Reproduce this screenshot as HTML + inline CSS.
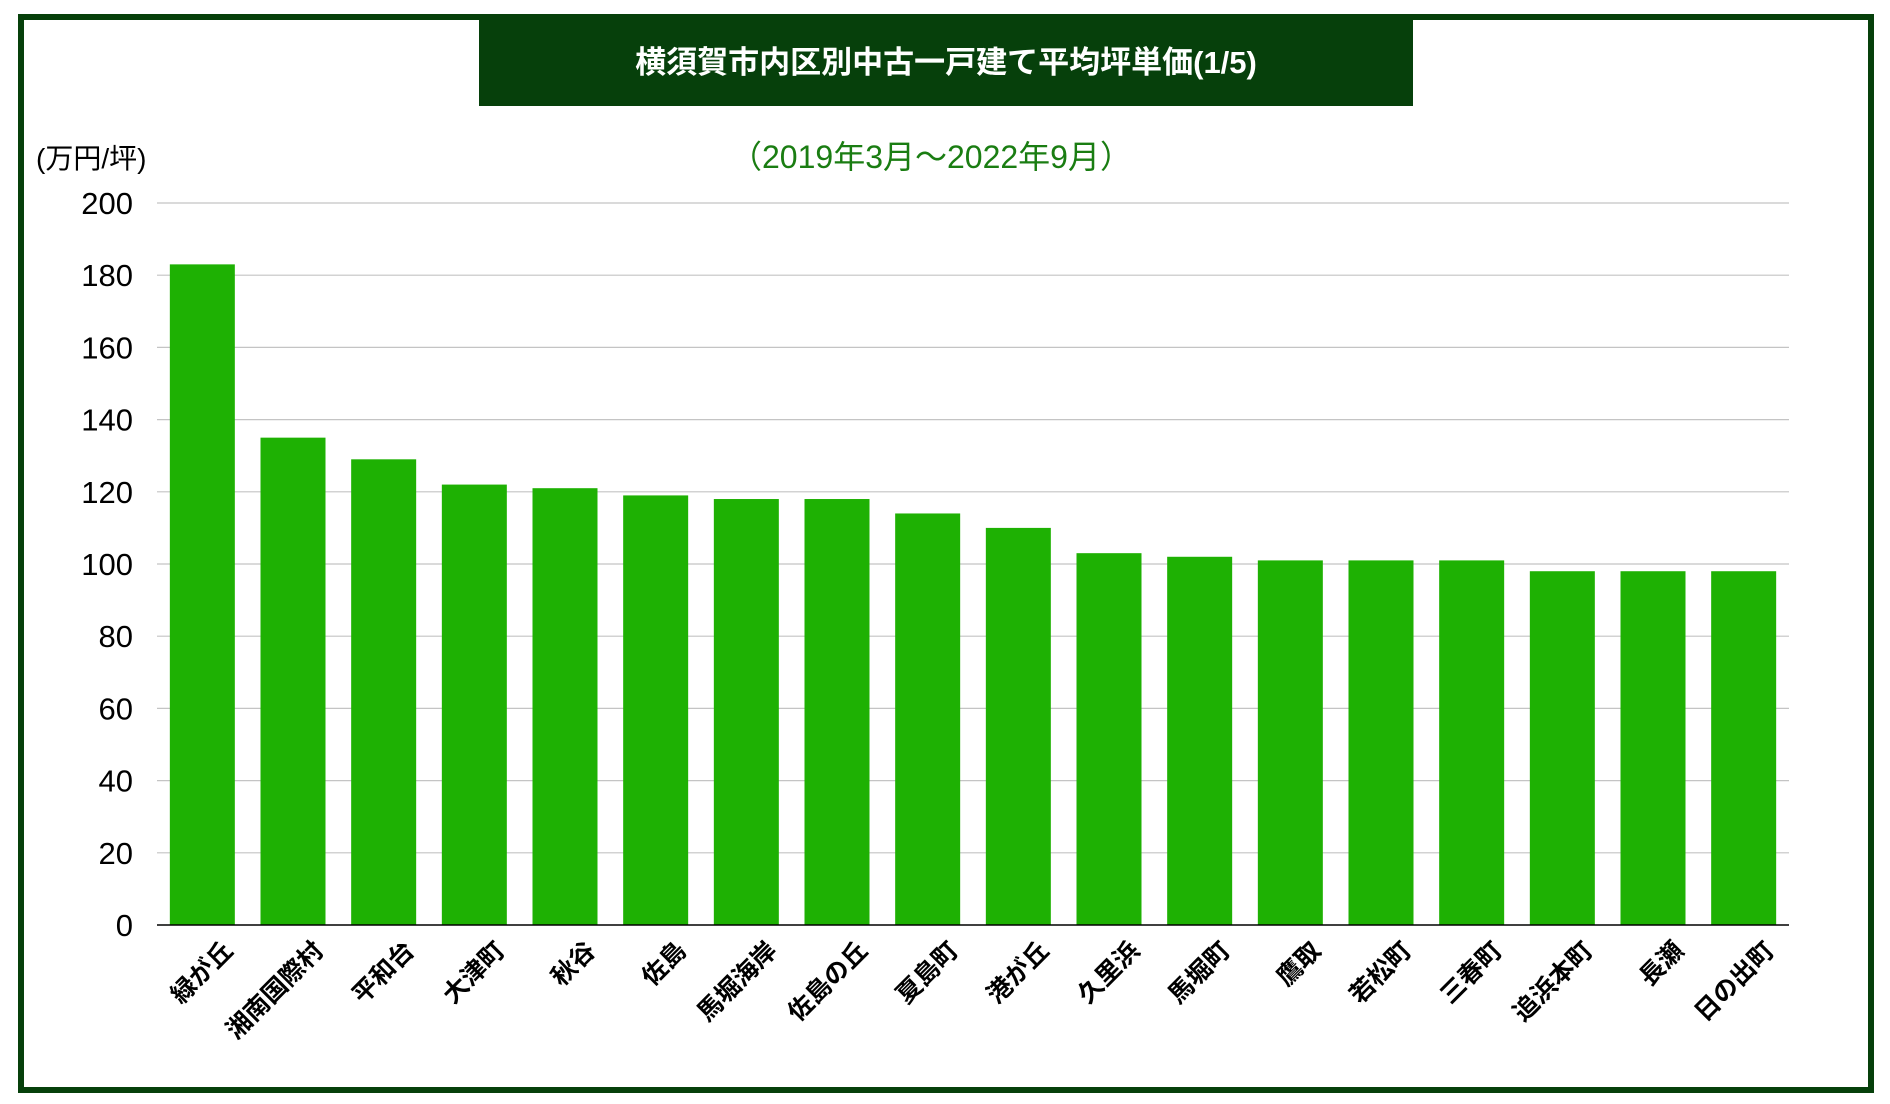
<!DOCTYPE html>
<html><head><meta charset="utf-8">
<style>
html,body{margin:0;padding:0;background:#fff;}
svg{display:block;font-family:"Liberation Sans","Noto Sans CJK JP",sans-serif;}
</style></head>
<body>
<svg id="chart" width="1890" height="1104" viewBox="0 0 1890 1104" xmlns="http://www.w3.org/2000/svg">
<rect x="0" y="0" width="1890" height="1104" fill="#fff"/>
<rect x="21" y="17" width="1850" height="1073" fill="none" stroke="#06400b" stroke-width="6"/>
<rect x="479" y="17" width="934" height="89" fill="#06400b"/>
<text x="946" y="73" text-anchor="middle" fill="#fff" font-size="31" font-weight="bold">横須賀市内区別中古一戸建て平均坪単価(1/5)</text>
<text x="931" y="168" text-anchor="middle" fill="#1a7d12" font-size="32">（2019年3月～2022年9月）</text>
<text x="36" y="168" fill="#000" font-size="28">(万円/坪)</text>
<g id="grid"></g>
<g id="yticks"></g>
<g id="bars"></g>
<line x1="157" y1="925" x2="1789" y2="925" stroke="#000" stroke-width="1.5"/>
<g id="xlabels"></g>
</svg>
<script>
const categories = ["緑が丘","湘南国際村","平和台","大津町","秋谷","佐島","馬堀海岸","佐島の丘","夏島町","港が丘","久里浜","馬堀町","鷹取","若松町","三春町","追浜本町","長瀬","日の出町"];
const values = [183,135,129,122,121,119,118,118,114,110,103,102,101,101,101,98,98,98];
const yTicks = [0,20,40,60,80,100,120,140,160,180,200];

const NS = "http://www.w3.org/2000/svg";
const plotL = 157, plotR = 1789, y0 = 925, yTop = 203, yMax = 200;
const band = (plotR - plotL) / categories.length;
const barW = 65;
function yScale(v){ return y0 - (v / yMax) * (y0 - yTop); }
function xBand(i){ return plotL + i * band; }

const grid = document.getElementById('grid');
const yt = document.getElementById('yticks');
yTicks.forEach(t => {
  const y = yScale(t);
  if (t > 0) {
    const l = document.createElementNS(NS, 'line');
    l.setAttribute('x1', plotL); l.setAttribute('x2', plotR);
    l.setAttribute('y1', y); l.setAttribute('y2', y);
    l.setAttribute('stroke', '#c4c4c4'); l.setAttribute('stroke-width', '1.2');
    
    
    grid.appendChild(l);
  }
  const tx = document.createElementNS(NS, 'text');
  tx.setAttribute('x', 133); tx.setAttribute('y', y + 11);
  tx.setAttribute('text-anchor', 'end'); tx.setAttribute('font-size', '31');
  tx.textContent = t;
  
  
  yt.appendChild(tx);
});

const bars = document.getElementById('bars');
const xl = document.getElementById('xlabels');
categories.forEach((c, i) => {
  const cx = xBand(i) + band / 2;
  const r = document.createElementNS(NS, 'rect');
  r.setAttribute('x', cx - barW / 2);
  r.setAttribute('y', yScale(values[i]));
  r.setAttribute('width', barW);
  r.setAttribute('height', y0 - yScale(values[i]));
  r.setAttribute('fill', '#1eb103');
  
  
  bars.appendChild(r);
  const t = document.createElementNS(NS, 'text');
  const ex = cx + 32, ey = 952;
  t.setAttribute('x', ex); t.setAttribute('y', ey);
  t.setAttribute('text-anchor', 'end');
  t.setAttribute('font-size', '25');
  t.setAttribute('font-weight', 'bold');
  t.setAttribute('transform', 'rotate(-45 ' + ex + ' ' + ey + ')');
  t.textContent = c;
  
  
  xl.appendChild(t);
});
</script>
</body></html>
